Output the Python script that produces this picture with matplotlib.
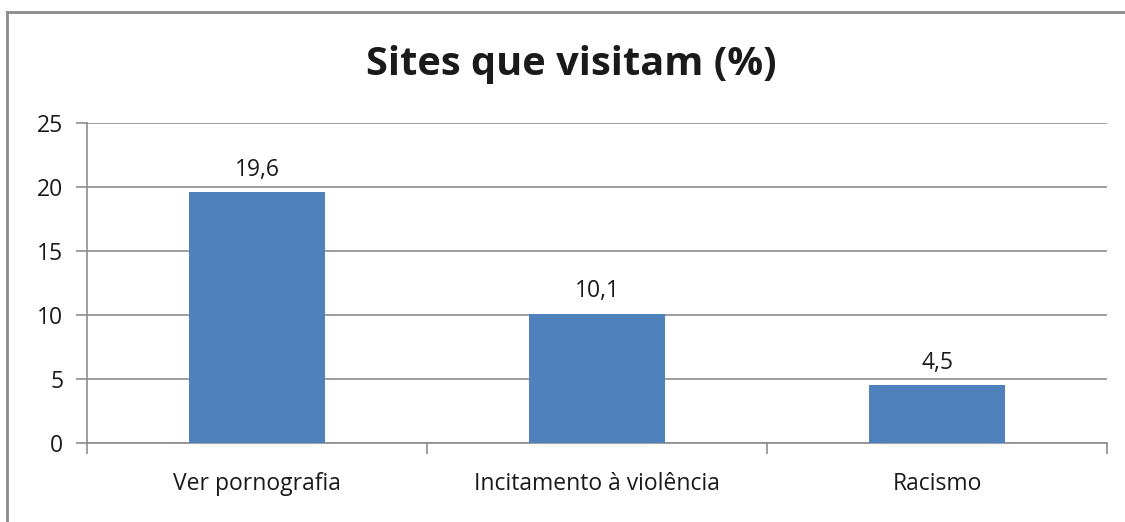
import matplotlib
matplotlib.use('Agg')
from matplotlib import pyplot as plt
from matplotlib.lines import Line2D
import numpy as np

plt.rcParams['font.family'] = ['Open Sans', 'DejaVu Sans']

categories = ['Ver pornografia', 'Incitamento à violência', 'Racismo']
values = [19.6, 10.1, 4.5]
labels = ['19,6', '10,1', '4,5']
yticks = [0, 5, 10, 15, 20, 25]

fig = plt.figure(figsize=(11.25, 5.22), dpi=100)
ax = fig.add_axes([87/1125, 1-443/522, (1107-87)/1125, (443-123)/522])

x = np.arange(len(categories))
ax.bar(x, values, width=0.4, color='#4F81BD', zorder=3)
for xi, v, t in zip(x, values, labels):
    ax.text(xi, v + 0.8, t, ha='center', va='bottom', fontsize=16.5, color='#1a1a1a')

ax.set_xlim(-0.5, len(categories) - 0.5)
ax.set_ylim(0, 25)
ax.set_yticks(yticks)
ax.set_yticklabels([str(t) for t in yticks], fontsize=16.5, color='#1a1a1a')
ax.yaxis.grid(True, color='#8c8c8c', linewidth=1.2, zorder=0)

ax.set_xticks(x)
ax.set_xticklabels(categories, fontsize=16.5, color='#1a1a1a')
ax.tick_params(axis='x', length=0, pad=21)
ax.set_xticks(np.arange(len(categories) + 1) - 0.5, minor=True)
ax.tick_params(axis='x', which='minor', length=8, width=1.2, color='#8c8c8c')
ax.tick_params(axis='y', length=8, width=1.2, color='#8c8c8c', pad=9)

for s in ['top', 'right']:
    ax.spines[s].set_visible(False)
for s in ['left', 'bottom']:
    ax.spines[s].set_color('#8c8c8c')
    ax.spines[s].set_linewidth(1.2)

fig.text(571/1125, 1-64/522, 'Sites que visitam (%)', ha='center', va='center',
         fontsize=28.6, fontweight='bold', color='#1a1a1a')

# outer chart border
fig.add_artist(Line2D([7/1125, 7/1125], [0, 1-12/522], color='#8c8c8c', linewidth=2))
fig.add_artist(Line2D([7/1125, 1], [1-12/522, 1-12/522], color='#8c8c8c', linewidth=2))

fig.savefig('out.png', dpi=100)
